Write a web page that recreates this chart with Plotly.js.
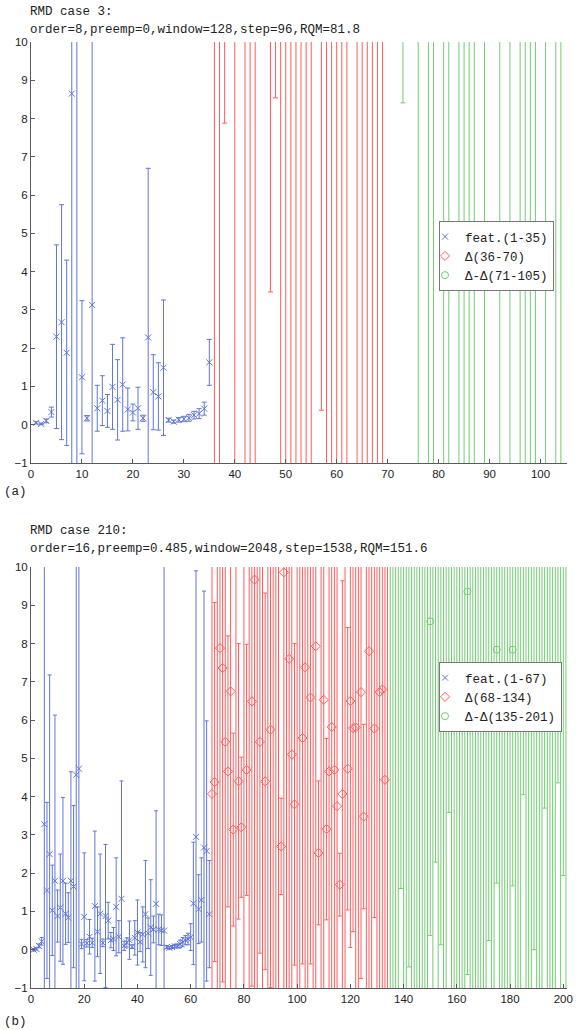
<!DOCTYPE html>
<html><head><meta charset="utf-8">
<script src="https://cdn.plot.ly/plotly-3.0.1.min.js"></script>
<style>html,body{margin:0;padding:0;background:#fff}#chart{width:580px;height:1030px}</style>
</head><body><div id="chart"></div>
<script>
// ---------- case (a): RMD case 3 ----------
const featMeanA = [0.05,0.02,0.10,0.33,2.30,2.68,1.88,8.65,12.0,1.24,0.17,3.13,0.43,0.63,0.36,0.99,0.65,1.05,0.40,0.32,0.43,0.17,2.28,0.85,0.74,1.49,0.12,0.08,0.13,0.15,0.18,0.25,0.29,0.42,1.63];
const featStdA  = [0.03,0.02,0.05,0.13,2.40,3.07,2.42,12.0,14.0,2.00,0.07,8.00,0.60,0.65,0.43,1.11,1.05,1.22,0.56,0.22,0.55,0.08,4.42,0.98,0.88,1.77,0.05,0.04,0.06,0.07,0.09,0.10,0.13,0.17,0.60];
const deltaMeanA = [22,18,20,35,25,40,19,23,17,33,28,20,21,24,19,26,18,22,20,25,36,21,19,23,20,27,18,31,22,24,19,21,26,20,34];
const deltaStdA  = [30,24,12.12,18,30,22,26,28,22,16,14,16.53,12.46,30,25,32,23,27,26,31,20,20.62,24,29,25,33,22,17,28,30,25,27,31,24,19];
const ddMeanA = [38,30,22,35,29,24,33,21,26,37,23,20,31,25,22,19,27,34,21,36,30,24,32,20,39,23,26,21,25,33,22,35,24,20,31];
const ddStdA  = [20,16,13.59,19,15,30,18,27,31,21,28,25,17,30,27,24,33,19,26,20,16,29,18,25,22,28,30,27,31,17,28,19,29,26,18];

// ---------- case (b): RMD case 210 ----------
const featMeanB = [0.00,0.02,0.10,0.22,3.28,1.55,2.50,1.03,1.80,0.88, 1.10,1.80,0.94,0.84,1.80,1.65,4.57,4.73,0.15,0.86, 0.17,0.34,0.18,1.14,0.47,0.94,0.18,0.88,0.76,0.25, 0.28,1.12,0.34,1.33,0.10,0.19,0.25,0.08,0.31,0.45, 0.20,0.40,0.93,0.43,0.58,0.53,1.20,0.53,0.51,0.50, 0.07,0.05,0.07,0.09,0.10,0.15,0.20,0.25,0.28,0.33, 1.21,2.95,1.06,1.30,2.67,2.58,0.93];
const featStdB  = [0.03,0.03,0.05,0.10,8.00,2.30,4.68,1.18,4.33,0.68, 1.40,2.18,0.80,0.65,2.85,2.12,7.00,7.50,0.12,1.67, 0.10,0.45,0.12,1.96,0.65,1.56,0.10,1.87,0.48,0.20, 0.30,1.28,0.42,3.08,0.12,0.12,0.50,0.05,0.45,0.85, 0.25,0.72,1.40,0.40,1.25,0.35,2.43,0.40,0.40,12.0, 0.04,0.03,0.04,0.04,0.05,0.10,0.12,0.12,0.15,0.35, 1.60,6.95,0.90,1.10,6.70,3.40,1.40];
const deltaMeanB = [4.07,4.38,14,7.88,7.36,5.43,4.66,6.75,3.14,13, 4.40,3.20,12,4.70,15,6.49,9.67,13,5.43,16, 4.40,12,5.75,14,11,15,2.70,9.86,13,7.60, 5.10,3.80,12,14,5.53,7.38,13,6.59,11,7.93, 2.53,14,6.53,3.15,4.66,5.82,4.70,3.75,1.70,4.07, 12,4.73,6.50,5.79,5.81,13,6.73,3.48,12,7.80, 14,5.78,12,6.73,6.80,4.44,13];
const deltaStdB  = [6.0,4.69,16,10,8.2,8,3.54,9,2.52,15, 3.6,1.83,14,3.28,17,7.44,12,15,5.52,18, 4.92,14,6.74,16,13,17,1.26,12,15,10, 7,4.2,14,16,5.9,9,15,6.96,13,10, 1.88,16,8,2.37,7,8,6.5,6.5,0.82,5.57, 14,3.69,6.44,5.32,8,15,7.48,2.41,14,10, 16,4.94,14,8.5,8.5,6.5,15];
const ddMeanB = [24,31,19,27,22,35,21,26,30,18, 33,25,20,29,23,8.58,28,21,32,19, 26,22,24,30,20,34,23,27,21,9.36, 25,31,19,28,22,33,20,26,24,29, 7.84,21,32,25,19,27,7.84,23,30,20, 25,34,22,28,21,26,31,19,24,29, 23,33,20,27,25,22,30];
const ddStdB  = [30,36,25,33,20.4,40,27,26.45,35,24, 39,31,26,34,29,8.21,34,18.71,37,18.87, 32,28,20.41,36,26,39,29,33,27,10.01, 31,36,25,34,28,38,26,25.76,30,35, 6.10,27,38,31,25,33,6.17,29,36,26, 20.95,40,28,34,21.0,32,37,25,20.3,35, 29,39,26,22.64,31,20.06,36];

const legendA = ['feat.(1-35)', 'Δ(36-70)', 'Δ-Δ(71-105)'];
const legendB = ['feat.(1-67)', 'Δ(68-134)', 'Δ-Δ(135-201)'];

function seq(start, n) { const a = []; for (let i = 0; i < n; i++) a.push(start + i); return a; }

const BLUE = 'rgb(96,118,214)', RED = 'rgb(255,92,92)', GREEN = 'rgb(112,205,112)';

function series(x, m, s, name, color, symbol, size, xa, ya, leg, capw) {
  return {
    type: 'scatter', mode: 'markers', x: x, y: m, name: name,
    xaxis: xa, yaxis: ya, legend: leg, cliponaxis: true, hoverinfo: 'skip',
    marker: { symbol: symbol, size: size, color: color, line: { color: color, width: 1 } },
    error_y: { type: 'data', array: s, visible: true, color: color, thickness: 1, width: capw }
  };
}

const nA = featMeanA.length, nB = featMeanB.length;
const data = [
  series(seq(1, nA), featMeanA, featStdA, legendA[0], BLUE, 'x-thin-open', 6, 'x', 'y', 'legend', 2.5),
  series(seq(nA + 1, nA), deltaMeanA, deltaStdA, legendA[1], RED, 'diamond-open', 7, 'x', 'y', 'legend', 2.5),
  series(seq(2 * nA + 1, nA), ddMeanA, ddStdA, legendA[2], GREEN, 'circle-open', 7, 'x', 'y', 'legend', 2.5),
  series(seq(1, nB), featMeanB, featStdB, legendB[0], BLUE, 'x-thin-open', 6, 'x2', 'y2', 'legend2', 2),
  series(seq(nB + 1, nB), deltaMeanB, deltaStdB, legendB[1], RED, 'diamond-open', 7, 'x2', 'y2', 'legend2', 2),
  series(seq(2 * nB + 1, nB), ddMeanB, ddStdB, legendB[2], GREEN, 'circle-open', 7, 'x2', 'y2', 'legend2', 2)
];

const tickFont = { family: 'Liberation Sans, Arial, sans-serif', size: 11.5, color: '#222' };
const axisBase = {
  showline: true, linecolor: '#5a5a5a', linewidth: 1, ticks: 'inside', ticklen: 4,
  tickcolor: '#5a5a5a', showgrid: false, zeroline: false, tickfont: tickFont, fixedrange: true
};
const yTicks = seq(-1, 12);
const mono = { family: 'Liberation Mono, Courier New, monospace', size: 12.5, color: '#222' };

const legendStyle = {
  bgcolor: '#fff', bordercolor: '#777', borderwidth: 1, font: mono, indentation: -15,
  xanchor: 'left', yanchor: 'top', tracegroupgap: 0, itemclick: false
};

const W = 580, H = 1030, L = 31, R = 13, T = 42, B = 42;
const px = v => (v - L) / (W - L - R);
const py = v => 1 - (v - T) / (H - T - B);

function note(text, x, y) {
  return { text: text, xref: 'paper', yref: 'paper', x: px(x), y: py(y), xanchor: 'left', yanchor: 'middle',
           showarrow: false, font: mono, align: 'left' };
}

const layout = {
  width: W, height: H, margin: { l: L, r: R, t: T, b: B },
  paper_bgcolor: '#fff', plot_bgcolor: '#fff', showlegend: true,
  xaxis: Object.assign({}, axisBase, { range: [0, 105.2], tickvals: seq(0, 11).map(v => v * 10), anchor: 'y', domain: [0, 1] }),
  yaxis: Object.assign({}, axisBase, { range: [-1, 10], tickvals: yTicks, anchor: 'x', domain: [py(463), 1] }),
  xaxis2: Object.assign({}, axisBase, { range: [0, 201.4], tickvals: seq(0, 11).map(v => v * 20), anchor: 'y2', domain: [0, 1] }),
  yaxis2: Object.assign({}, axisBase, { range: [-1, 10], tickvals: yTicks, anchor: 'x2', domain: [0, py(567)] }),
  legend: Object.assign({}, legendStyle, { x: px(439), y: py(221) }),
  legend2: Object.assign({}, legendStyle, { x: px(439), y: py(662) }),
  annotations: [
    note('RMD case 3:', 28, 12),
    note('order=8,preemp=0,window=128,step=96,RQM=81.8', 28, 30),
    note('(a)', 2, 492),
    note('RMD case 210:', 28, 531),
    note('order=16,preemp=0.485,window=2048,step=1538,RQM=151.6', 28, 549),
    note('(b)', 2, 1022)
  ]
};

Plotly.newPlot('chart', data, layout, { staticPlot: true, displayModeBar: false });
</script></body></html>
